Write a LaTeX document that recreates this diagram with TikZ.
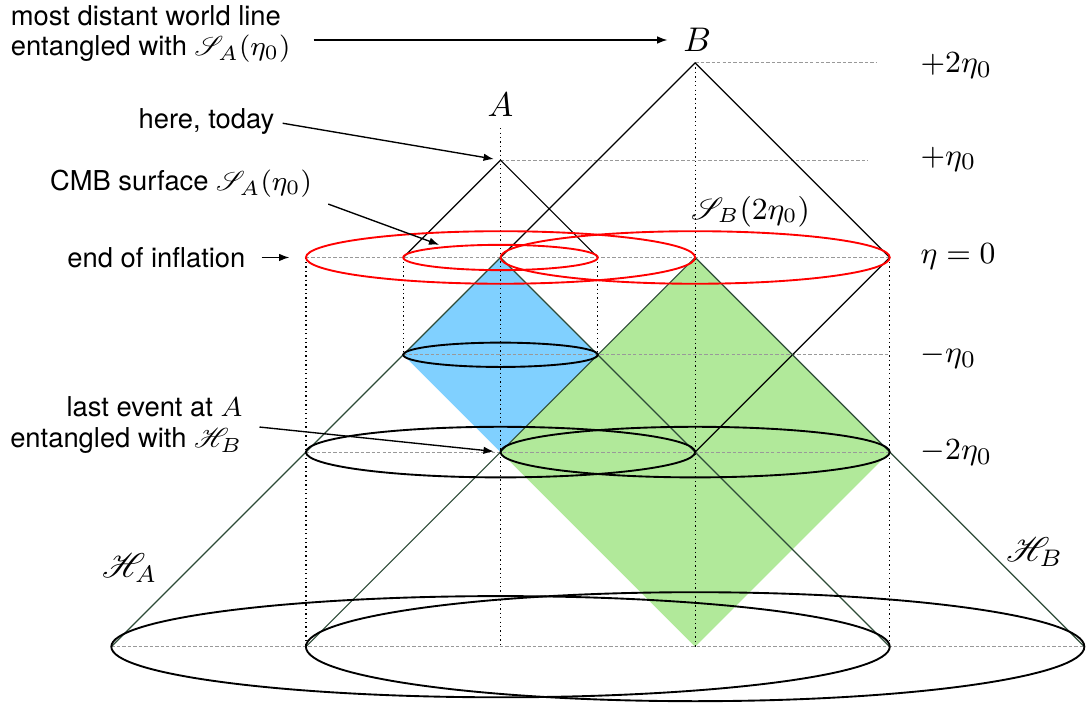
\documentclass[tikz,border=0pt]{standalone}
\usepackage{fontspec}
\usepackage{mathrsfs}
\usetikzlibrary{arrows.meta}
\newfontfamily\helv{TeX Gyre Heros}
\definecolor{pastblue}{RGB}{128,208,255}
\definecolor{pastgreen}{RGB}{177,233,154}
\definecolor{horizon}{RGB}{45,75,55}

\begin{document}
\begin{tikzpicture}[
    cone/.style={line width=0.35pt},
    hor/.style={line width=0.35pt, draw=horizon},
    shell/.style={line width=0.55pt},
    level/.style={dash pattern=on 1pt off 0.6pt, gray!80, line width=0.3pt},
    world/.style={dash pattern=on 0.4pt off 0.9pt, line width=0.35pt},
    note/.style={font=\helv\fontsize{8}{9}\selectfont, inner sep=0pt},
    tick/.style={font=\fontsize{9.5}{11}\selectfont, inner sep=0pt, anchor=base west},
    mark label/.style={font=\fontsize{10}{11}\selectfont, inner sep=1pt},
    pointer/.style={-{Latex[length=3pt,width=2.2pt]}, line width=0.4pt},
]
\useasboundingbox (-5.144,-4.589) rectangle (6.017,2.646);
% ---------- past regions ----------
\fill[pastblue] (0,0) -- (-1,-1) -- (0,-2) -- (1,-1) -- cycle;
\fill[pastgreen] (2,0) -- (0,-2) -- (2,-4) -- (4,-2) -- cycle;
% ---------- world lines ----------
\draw[world] (-2,0) -- (-2,-4);
\draw[world] (-1,0) -- (-1,-1);
\draw[world] (0,1.33) -- (0,-4);
\draw[world] (1,0) -- (1,-1);
\draw[world] (2,2) -- (2,-4);
\draw[world] (4,0) -- (4,-4);
% ---------- time levels ----------
\draw[level] (2,2) -- (3.87,2);
\draw[level] (0,1) -- (3.77,1);
\draw[level] (-2,0) -- (4,0);
\draw[level] (-1,-1) -- (4,-1);
\draw[level] (-2,-2) -- (4,-2);
\draw[level] (-4,-4) -- (6,-4);
% ---------- light cones ----------
\draw[cone] (-1,0) -- (0,1) -- (1,0);
\draw[cone] (0,0) -- (2,2) -- (4,0);
\draw[cone] (4,0) -- (2,-2);
\draw[hor] (-4,-4) -- (0,0) -- (4,-4);
\draw[hor] (-2,-4) -- (2,0) -- (6,-4);
% ---------- surfaces ----------
\draw[shell, red] (0,0) ellipse [x radius=1, y radius=0.13];
\draw[shell, red] (0,0) ellipse [x radius=2, y radius=0.27];
\draw[shell, red] (2,0) ellipse [x radius=2, y radius=0.27];
\draw[shell] (0,-1) ellipse [x radius=1, y radius=0.125];
\draw[shell] (0,-2) ellipse [x radius=2, y radius=0.26];
\draw[shell] (2,-2) ellipse [x radius=2, y radius=0.26];
\draw[shell] (0,-4) ellipse [x radius=4, y radius=0.52];
\draw[shell] (2,-4) ellipse [x radius=4, y radius=0.56];
% ---------- events ----------
\coordinate (Atop) at (0,1);
\coordinate (Aend) at (0,-2);
\coordinate (inflL) at (-2,0);
\coordinate (cmbpt) at (-0.63,0.13);
\node[mark label] (lblA) at (0,1.57) {$A$};
\node[mark label] (lblB) at (2.02,2.235) {$B$};
\node[mark label, font=\fontsize{9}{10}\selectfont] (SB) at (2.57,0.47) {$\mathscr{S}_B(2\eta_0)$};
\node[mark label] (HA) at (-3.81,-3.19) {$\mathscr{H}_A$};
\node[mark label] (HB) at (5.49,-3.03) {$\mathscr{H}_B$};
% ---------- time ticks ----------
\node[tick] (p2) at (4.31,1.9) {$+2\eta_0$};
\node[tick] (p1) at (4.31,0.95) {$+\eta_0$};
\node[tick] (z0) at (4.31,-0.06) {$\eta = 0$};
\node[tick] (m1) at (4.31,-1.08) {$-\eta_0$};
\node[tick] (m2) at (4.31,-2.08) {$-2\eta_0$};
% ---------- notes ----------
\node[note, anchor=north west, align=left] (dist) at (-5.04,2.6)
    {most distant world line\\entangled with $\mathscr{S}_A(\eta_0)$};
\node[note, anchor=east] (today) at (-2.318,1.393) {here, today};
\node[note, anchor=east] (cmb) at (-1.93,0.755) {CMB surface $\mathscr{S}_A(\eta_0)$};
\node[note, anchor=east] (infl) at (-2.615,0) {end of inflation};
\node[note, anchor=east, align=right] (last) at (-2.646,-1.725)
    {last event at $A$\\entangled with $\mathscr{H}_B$};
\draw[pointer, shorten <=0.23cm, shorten >=0.12cm] (dist.east |- lblB.west) -- (lblB.west);
\draw[pointer, shorten <=0.08cm, shorten >=0.07cm] (today.east) -- (Atop);
\draw[pointer, shorten <=0.17cm] (cmb.south east) -- (cmbpt);
\draw[pointer, shorten <=0.16cm, shorten >=0.17cm] (infl.east) -- (inflL);
\draw[pointer, shorten <=0.17cm, shorten >=0.07cm] (last.east) -- (Aend);
\end{tikzpicture}
\end{document}
